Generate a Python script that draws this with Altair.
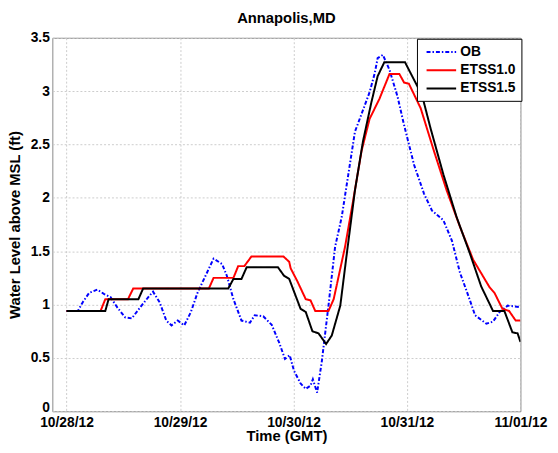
import altair as alt
import pandas as pd

# ---- data (hours after 10/28/12 00:00 GMT, level in ft) ----
series_names = ["OB", "ETSS1.0", "ETSS1.5"]
series_colors = ["#0000ff", "#ff0000", "#000000"]

ob_hours = [0, 2.4, 3.4, 4.8, 6.5, 7.9, 9.3, 10.7, 12.4, 13.8, 15.6, 17.3, 18.3, 19.7,
            21.1, 22.2, 23.5, 24.9, 26.3, 27.7, 29.4, 31.1, 32.9, 33.9, 35.3, 37.0,
            38.8, 39.8, 41.6, 43.4, 45.0, 46.2, 47.2, 48.1, 49.5, 50.6, 51.6, 52.1,
            53.0, 54.0, 55.4, 56.8, 58.2, 59.6, 61.0, 63.1, 64.1, 65.2, 65.8, 66.9,
            68.3, 70.0, 71.4, 73.5, 75.6, 77.3, 79.7, 81.5, 83.2, 85.0, 86.4, 88.8,
            90.2, 91.6, 93.3, 96.0]
ob_level = [0.94, 0.94, 1.02, 1.11, 1.14, 1.10, 1.07, 0.975, 0.88, 0.87, 0.975, 1.07, 1.12, 1.02,
            0.85, 0.805, 0.85, 0.805, 0.93, 1.11, 1.27, 1.43, 1.38, 1.27, 1.05, 0.85,
            0.83, 0.90, 0.89, 0.81, 0.64, 0.49, 0.525, 0.38, 0.26, 0.21, 0.24, 0.30,
            0.175, 0.47, 0.99, 1.54, 1.82, 2.22, 2.62, 2.87, 2.99, 3.17, 3.31, 3.34,
            3.20, 2.95, 2.68, 2.31, 2.04, 1.88, 1.79, 1.60, 1.30, 1.08, 0.90, 0.82,
            0.84, 0.93, 0.99, 0.975]

etss10_hours = [0, 7.2, 8.2, 13.0, 14.1, 30.1, 31.1, 35.3, 36.3, 37.6, 39.1, 45.9, 47.1,
                47.4, 48.8, 50.6, 51.6, 52.6, 55.4, 56.5, 58.9, 60.6, 62.4, 64.1, 66.2,
                68.3, 70.4, 71.4, 72.4, 74.9, 77.7, 80.4, 83.2, 86.0, 89.5, 90.5, 92.2,
                93.6, 95.0, 96.0]
etss10_level = [0.94, 0.94, 1.05, 1.05, 1.15, 1.15, 1.25, 1.25, 1.36, 1.36, 1.45, 1.45, 1.40,
                1.34, 1.22, 1.05, 1.04, 0.94, 0.94, 1.05, 1.54, 1.97, 2.44, 2.74, 2.93,
                3.16, 3.16, 3.08, 3.07, 2.84, 2.44, 2.07, 1.73, 1.42, 1.16, 1.11, 0.96,
                0.94, 0.85, 0.85]

etss15_hours = [0, 8.2, 8.9, 15.2, 16.2, 34.2, 35.3, 37.0, 38.1, 44.7, 46.0, 47.1, 49.5,
                50.6, 52.0, 53.3, 54.9, 56.1, 57.9, 59.2, 61.0, 62.7, 64.5, 65.8, 67.2,
                71.6, 72.4, 75.2, 77.0, 79.7, 82.5, 85.3, 87.7, 90.2, 92.6, 94.3, 95.4, 96.0]
etss15_level = [0.94, 0.94, 1.05, 1.05, 1.15, 1.15, 1.24, 1.24, 1.35, 1.35, 1.27, 1.24, 0.96,
                0.93, 0.75, 0.73, 0.63, 0.71, 0.99, 1.45, 2.07, 2.53, 2.90, 3.14, 3.27,
                3.27, 3.20, 2.96, 2.65, 2.22, 1.82, 1.48, 1.17, 0.94, 0.94, 0.74, 0.73, 0.65]

y_ticks = [0, 0.5, 1, 1.5, 2, 2.5, 3, 3.5]

start = pd.Timestamp("2012-10-28 00:00")


def frame(name, hours, levels):
    assert len(hours) == len(levels)
    return pd.DataFrame({
        "time": [(start + pd.Timedelta(hours=h)).strftime("%Y-%m-%dT%H:%M:%S") for h in hours],
        "level": levels,
        "series": name,
    })


df = pd.concat([
    frame("OB", ob_hours, ob_level),
    frame("ETSS1.0", etss10_hours, etss10_level),
    frame("ETSS1.5", etss15_hours, etss15_level),
], ignore_index=True)

FONT = "Liberation Sans"

legend = alt.Legend(
    title=None, orient="none", legendX=370, legendY=1,
    symbolType="M-0.5,0H3.5", symbolSize=225, symbolStrokeWidth=2,
    labelFont=FONT, labelFontSize=14, labelFontWeight="bold", labelColor="black",
    fillColor="white", strokeColor="black", padding=5, rowPadding=2.5, labelOffset=22,
    cornerRadius=0,
)

x_enc = alt.X(
    "time:T",
    scale=alt.Scale(domain=[alt.DateTime(year=2012, month=10, date=27, hours=21),
                            alt.DateTime(year=2012, month=11, date=1, hours=0)]),
    axis=alt.Axis(
        title="Time (GMT)", format="%m/%d/%y",
        values=[alt.DateTime(year=2012, month=10, date=d) for d in [28, 29, 30, 31]]
        + [alt.DateTime(year=2012, month=11, date=1)],
        labelFlush=False, labelOverlap=False, labelPadding=4, titlePadding=0,
    ),
)
y_enc = alt.Y(
    "level:Q",
    scale=alt.Scale(domain=[0, 3.5], nice=False, zero=False),
    axis=alt.Axis(title="Water Level above MSL (ft)", values=y_ticks, format="~g",
                  labelPadding=3, titlePadding=8,
                  labelOffset={"condition": {"test": "datum.value === 0", "value": -4},
                               "value": 0}),
)
color_enc = alt.Color("series:N", scale=alt.Scale(domain=series_names, range=series_colors),
                      legend=legend)
dash_enc = alt.StrokeDash("series:N",
                          scale=alt.Scale(domain=series_names,
                                          range=[[4, 2, 1.5, 2], [1, 0], [1, 0]]),
                          legend=legend)


def layer(name):
    return (
        alt.Chart(df)
        .transform_filter(alt.datum.series == name)
        .mark_line(strokeWidth=2, clip=True)
        .encode(x=x_enc, y=y_enc, color=color_enc, strokeDash=dash_enc)
    )


chart = (
    alt.layer(layer("OB"), layer("ETSS1.0"), layer("ETSS1.5"))
    .properties(
        width=475, height=379,
        title=alt.TitleParams("Annapolis,MD", font=FONT, fontSize=15, fontWeight="bold",
                              color="black", anchor="middle", offset=5),
        autosize=alt.AutoSizeParams(type="none"),
        padding={"left": 45, "top": 27, "right": 30, "bottom": 30},
        background="white",
    )
    .configure_view(stroke="#888888", strokeWidth=1)
    .configure_axis(
        labelFont=FONT, labelFontSize=14, labelFontWeight="bold", labelColor="black",
        titleFont=FONT, titleFontSize=15, titleFontWeight="bold", titleColor="black",
        domain=False, ticks=False, tickSize=0,
        grid=True, gridColor="#cccccc", gridDash=[2, 2], gridWidth=1,
    )
)

chart.save("out.html", embed_options={"renderer": "svg", "actions": False})
